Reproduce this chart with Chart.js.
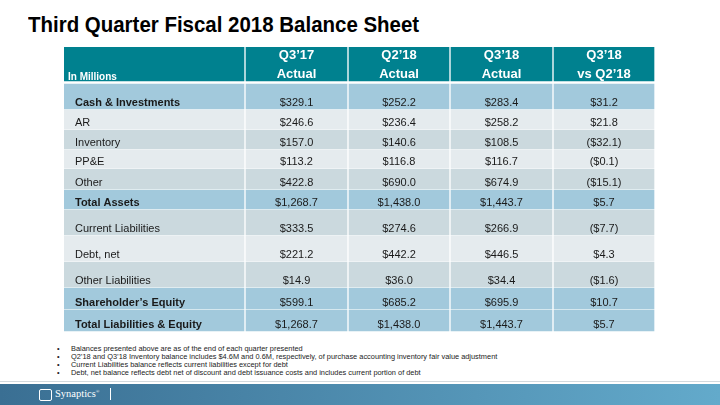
<!DOCTYPE html>
<html lang="en">
  <head>
    <meta charset="UTF-8" />
    <script src="https://cdn.jsdelivr.net/npm/chart.js"></script>
    <title>Third Quarter Fiscal 2018 Balance Sheet</title>
    <style>
      body { margin: 0; width: 720px; height: 405px; position: relative; background: #fff; overflow: hidden; font-family: "Liberation Sans", Arial, sans-serif; }
      .titulo { position: absolute; left: 28px; top: 12px; font-family: "Liberation Sans", Arial, sans-serif; font-weight: bold; font-size: 22px; color: #000; white-space: nowrap; transform: scaleX(0.93); transform-origin: left top; }
      .tabela { position: absolute; left: 64px; top: 47px; width: 591px; height: 285px; }
      .tabela canvas { display: block; }
      .notas { position: absolute; left: 57px; top: 345px; margin: 0; padding: 0; list-style: none; font-family: "Liberation Sans", Arial, sans-serif; font-size: 7.4px; color: #222; line-height: 8px; }
      .notas li::before { content: "•"; display: inline-block; width: 14px; }
      .linha { position: absolute; left: 0; top: 381px; width: 720px; height: 1px; background: #d3d9dd; }
      .rodape { position: absolute; left: 0; top: 384px; width: 720px; height: 21px; background: linear-gradient(to right, #3a6f93, #63aacb); }
      .logo { position: absolute; left: 39px; top: 5px; width: 11px; height: 10px; border: 1.5px solid #fff; border-radius: 2px; }
      .marca { position: absolute; left: 55px; top: 4px; font-family: "Liberation Serif", "DejaVu Serif", serif; font-size: 10.5px; color: #fff; }
      .barra { position: absolute; left: 110px; top: 4px; width: 1px; height: 12px; background: #fff; }
    </style>
  </head>
  <body>
    <div class="titulo">Third Quarter Fiscal 2018 Balance Sheet</div>
    <div class="tabela"><canvas id="graficoTabela" width="591" height="285"></canvas></div>
    <ul class="notas">
      <li>Balances presented above are as of the end of each quarter presented</li>
      <li>Q2’18 and Q3’18 Inventory balance includes $4.6M and 0.6M, respectively, of purchase accounting inventory fair value adjustment</li>
      <li>Current Liabilities balance reflects current liabilities except for debt</li>
      <li>Debt, net balance reflects debt net of discount and debt issuance costs and includes current portion of debt</li>
    </ul>
    <div class="linha"></div>
    <div class="rodape">
      <div class="logo"></div>
      <div class="marca">Synaptics<sup style="font-size:5px">®</sup></div>
      <div class="barra"></div>
    </div>

<script>
  // dados da tabela
  var linhas = ["Cash & Investments", "AR", "Inventory", "PP&E", "Other", "Total Assets",
    "Current Liabilities", "Debt, net", "Other Liabilities", "Shareholder’s Equity", "Total Liabilities & Equity"];
  var colunas = [["Q3’17", "Actual"], ["Q2’18", "Actual"], ["Q3’18", "Actual"], ["Q3’18", "vs Q2’18"]];
  var unidade = "In Millions";
  var q3_17 = [329.1, 246.6, 157.0, 113.2, 422.8, 1268.7, 333.5, 221.2, 14.9, 599.1, 1268.7];
  var q2_18 = [252.2, 236.4, 140.6, 116.8, 690.0, 1438.0, 274.6, 442.2, 36.0, 685.2, 1438.0];
  var q3_18 = [283.4, 258.2, 108.5, 116.7, 674.9, 1443.7, 266.9, 446.5, 34.4, 695.9, 1443.7];
  var variacao = [31.2, 21.8, -32.1, -0.1, -15.1, 5.7, -7.7, 4.3, -1.6, 10.7, 5.7];

  // layout (pixels) - separado dos dados
  var bordasCol = [0, 181, 284, 386, 489, 591];
  var bordasLin = [0, 35, 63, 83, 103, 122, 143, 163, 189, 215, 241, 263, 285];
  var estilo = ["azul", "claro", "medio", "claro", "medio", "azul", "medio", "claro", "medio", "azul", "azul"];
  var negrito = [true, false, false, false, false, true, false, false, false, true, true];
  var cores = { topo: "#00818f", azul: "#a2c9dc", claro: "#e5ebee", medio: "#cbd9de" };

  var valoresCol = [q3_17, q2_18, q3_18, variacao];

  function formatar(n) {
    var s = Math.abs(n).toLocaleString("en-US", { minimumFractionDigits: 1, maximumFractionDigits: 1 });
    return n < 0 ? "($" + s + ")" : "$" + s;
  }

  // cada linha vira um dataset de barras flutuantes (uma barra por celula)
  var datasets = [];
  for (var r = 0; r < bordasLin.length - 1; r++) {
    var topo = bordasLin[r], base = bordasLin[r + 1];
    var gapTopo = r == 1 ? 2 : 0;
    var centro = (topo + gapTopo + base - 1) / 2;
    var dados = [];
    for (var c = 0; c < bordasCol.length - 1; c++) {
      dados.push({ y: centro, x: [bordasCol[c] + (c > 0 ? 1 : 0), bordasCol[c + 1] - 1] });
    }
    datasets.push({
      data: dados,
      backgroundColor: r == 0 ? cores.topo : cores[estilo[r - 1]],
      barThickness: base - topo - gapTopo - 1,
      borderWidth: 0,
    });
  }

  var pluginTexto = {
    id: "texto",
    afterDatasetsDraw: function (chart) {
      var ctx = chart.ctx;
      var sx = chart.scales.x, sy = chart.scales.y;
      ctx.save();
      // cabecalho
      ctx.fillStyle = "#fff";
      ctx.textBaseline = "middle";
      ctx.textAlign = "left";
      ctx.font = "bold 10px 'Liberation Sans', Arial, sans-serif";
      ctx.fillText(unidade, sx.getPixelForValue(bordasCol[0]) + 4, sy.getPixelForValue(30));
      ctx.textAlign = "center";
      ctx.font = "bold 13px 'Liberation Sans', Arial, sans-serif";
      for (var c = 0; c < colunas.length; c++) {
        var xm = sx.getPixelForValue((bordasCol[c + 1] + bordasCol[c + 2]) / 2);
        ctx.fillText(colunas[c][0], xm, sy.getPixelForValue(8.5));
        ctx.fillText(colunas[c][1], xm, sy.getPixelForValue(27.5));
      }
      // corpo
      ctx.fillStyle = "#1a1a1a";
      for (var r = 0; r < linhas.length; r++) {
        var yt = sy.getPixelForValue(bordasLin[r + 2] - 7);
        ctx.textAlign = "left";
        ctx.font = (negrito[r] ? "bold " : "") + "11px 'Liberation Sans', Arial, sans-serif";
        ctx.fillText(linhas[r], sx.getPixelForValue(bordasCol[0]) + 11, yt);
        ctx.textAlign = "center";
        ctx.font = "11px 'Liberation Sans', Arial, sans-serif";
        for (var c = 0; c < valoresCol.length; c++) {
          var xm = sx.getPixelForValue((bordasCol[c + 1] + bordasCol[c + 2]) / 2);
          ctx.fillText(formatar(valoresCol[c][r]), xm, yt);
        }
      }
      ctx.restore();
    },
  };

  var areaTabela = document.getElementById("graficoTabela");
  var tabela = new Chart(areaTabela, {
    type: "bar",
    data: { datasets: datasets },
    options: {
      indexAxis: "y",
      responsive: false,
      animation: false,
      layout: { padding: 0 },
      plugins: { legend: { display: false }, tooltip: { enabled: false } },
      datasets: { bar: { grouped: false } },
      scales: {
        x: { type: "linear", min: 0, max: 591, offset: false, display: false },
        y: { type: "linear", min: 0, max: 285, reverse: true, offset: false, display: false },
      },
    },
    plugins: [pluginTexto],
  });
</script>
  </body>
</html>
